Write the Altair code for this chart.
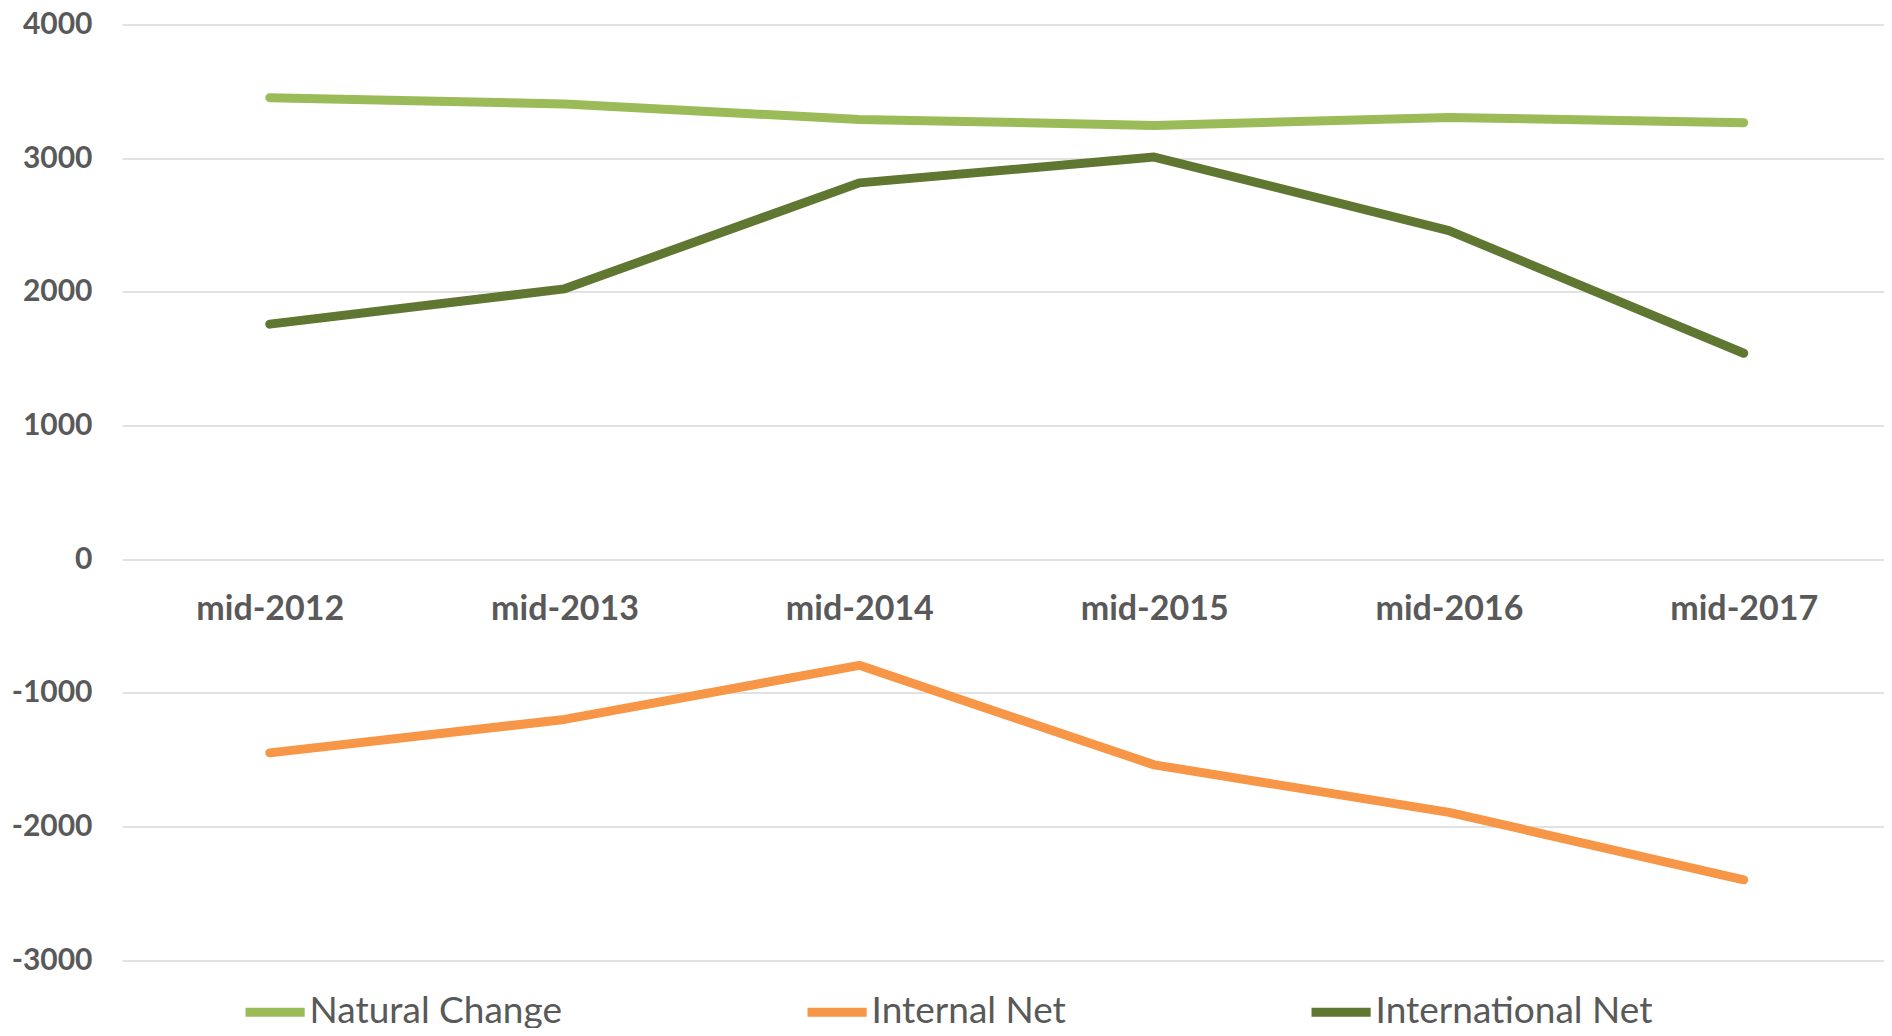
import altair as alt
import pandas as pd

years = ["mid-2012", "mid-2013", "mid-2014", "mid-2015", "mid-2016", "mid-2017"]
natural_change = [3452, 3405, 3290, 3245, 3305, 3265]
internal_net = [-1450, -1200, -795, -1540, -1895, -2400]
international_net = [1758, 2022, 2815, 3008, 2458, 1540]

series_names = ["Natural Change", "Internal Net", "International Net"]
series_colors = ["#9BBB59", "#F79646", "#5F7730"]

rows = []
for name, vals in zip(series_names, [natural_change, internal_net, international_net]):
    for y, v in zip(years, vals):
        rows.append({"Year": y, "Value": v, "Series": name})
df = pd.DataFrame(rows)

FONT = "Lato"
TXT = "#595959"

chart = alt.Chart(df).mark_line(
    strokeWidth=9, strokeCap="round", strokeJoin="round"
).encode(
    x=alt.X("Year:N", sort=years,
            scale=alt.Scale(type="point", padding=0.4885, align=0.513),
            axis=alt.Axis(title=None, orient="bottom", offset=-401, domain=False, ticks=False,
                          labelAngle=0, labelFont=FONT, labelFontWeight="bold", labelFontSize=34,
                          labelColor=TXT, labelBaseline="middle", labelPadding=50, grid=False)),
    y=alt.Y("Value:Q",
            scale=alt.Scale(domain=[-3000, 4000], nice=False, zero=False),
            axis=alt.Axis(title=None, values=list(range(-3000, 4001, 1000)), domain=False, ticks=False,
                          labelFont=FONT, labelFontWeight="bold", labelFontSize=30, labelColor=TXT,
                          labelPadding=30, gridColor="#D9D9D9", gridWidth=1.5,
                          labelExpr="'' + datum.value")),
    color=alt.Color("Series:N", sort=series_names,
                    scale=alt.Scale(domain=series_names, range=series_colors),
                    legend=alt.Legend(title=None, orient="none", direction="horizontal",
                                      legendX=118.6, legendY=953, symbolType="stroke",
                                      symbolSize=3500, symbolStrokeWidth=9,
                                      labelFont=FONT, labelFontSize=37, labelColor=TXT,
                                      labelLimit=0, labelOffset=0, columnPadding=226, padding=0)),
    detail="Series:N",
).properties(
    width=1762, height=935.5,
    autosize=alt.AutoSizeParams(type="none"),
    padding={"left": 114, "top": 16.5, "right": 0, "bottom": 68},
).configure_view(stroke=None)

chart.save("out.html", embed_options={"renderer": "svg", "actions": False})
